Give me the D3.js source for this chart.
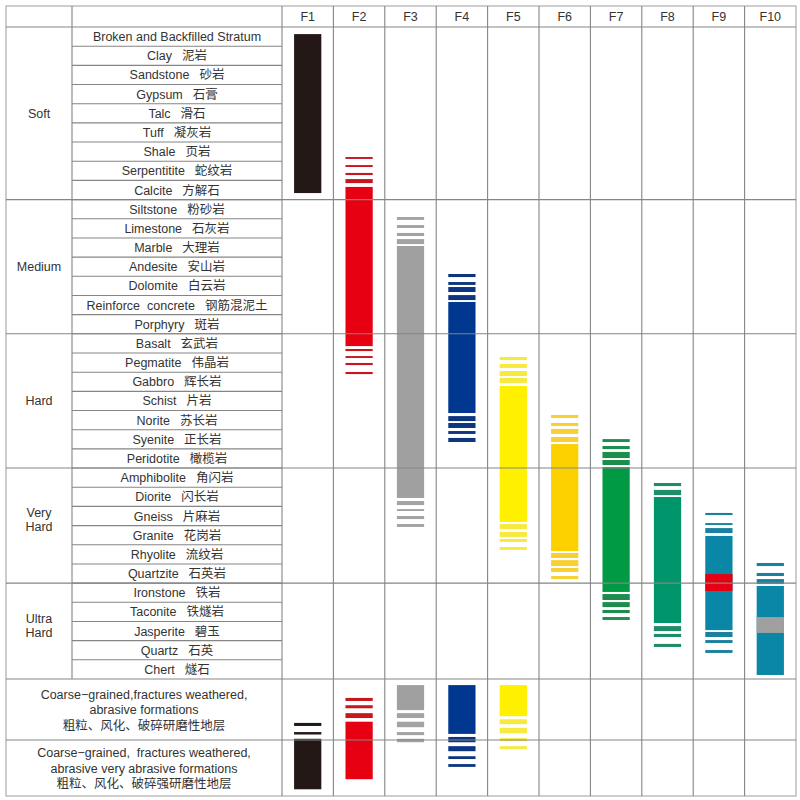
<!DOCTYPE html>
<html>
<head>
<meta charset="utf-8">
<script src="https://cdn.jsdelivr.net/npm/d3@7"></script>
<style>
  body { margin: 0; background: #fff; }
  text { font-family: "Liberation Sans", Arial, "Noto Sans CJK SC", sans-serif; fill: #333; white-space: pre; }
</style>
</head>
<body>
<script>
/////////////////////// data ////////////////////////
var groups = ["Soft", "Medium", "Hard", "Very\nHard", "Ultra\nHard"]
var groupSizes = [9, 7, 7, 6, 5]

var rocksEn = ["Broken and Backfilled Stratum", "Clay", "Sandstone", "Gypsum", "Talc", "Tuff", "Shale", "Serpentitite", "Calcite",
  "Siltstone", "Limestone", "Marble", "Andesite", "Dolomite", "Reinforce  concrete", "Porphyry",
  "Basalt", "Pegmatite", "Gabbro", "Schist", "Norite", "Syenite", "Peridotite",
  "Amphibolite", "Diorite", "Gneiss", "Granite", "Rhyolite", "Quartzite",
  "Ironstone", "Taconite", "Jasperite", "Quartz", "Chert"]
var rocksZh = ["", "泥岩", "砂岩", "石膏", "滑石", "凝灰岩", "页岩", "蛇纹岩", "方解石",
  "粉砂岩", "石灰岩", "大理岩", "安山岩", "白云岩", "钢筋混泥土", "斑岩",
  "玄武岩", "伟晶岩", "辉长岩", "片岩", "苏长岩", "正长岩", "橄榄岩",
  "角闪岩", "闪长岩", "片麻岩", "花岗岩", "流纹岩", "石英岩",
  "铁岩", "铁燧岩", "碧玉", "石英", "燧石"]

var formations = [
  ["Coarse\u2212grained,fractures weathered,", "abrasive formations", "粗粒、风化、破碎研磨性地层"],
  ["Coarse\u2212grained,  fractures weathered,", "abrasive very abrasive formations", "粗粒、风化、破碎强研磨性地层"]
]

var fCols = ["F1", "F2", "F3", "F4", "F5", "F6", "F7", "F8", "F9", "F10"]
var barColors = ["#231815", "#e60012", "#a0a0a0", "#00378f", "#fff000", "#fdd000", "#009944", "#00956b", "#0a86a6", "#0a86a6"]
var stripeColors = ["#231815", "#c8161e", "#a3a3a3", "#0d3580", "#f7ea3c", "#f9d033", "#1e8c4c", "#1f8d6a", "#1a809e", "#1a809e"]

// bar extents in row units (one unit = one rock row)
var solids = [[0.37, 8.66], [8.34, 16.64], [11.42, 24.56], [14.34, 20.13], [18.72, 25.81],
  [21.75, 27.33], [22.95, 29.46], [24.51, 31.08], [26.54, 31.45], [29.15, 33.79]]
var topStripes = [
  [],
  [[6.78, 6.88], [7.20, 7.30], [7.61, 7.72], [7.93, 8.14]],
  [[9.91, 10.06], [10.33, 10.48], [10.74, 10.90], [11.06, 11.32]],
  [[12.88, 13.04], [13.30, 13.45], [13.56, 13.82], [13.98, 14.24]],
  [[17.21, 17.37], [17.57, 17.78], [17.94, 18.20], [18.30, 18.56]],
  [[20.23, 20.39], [20.65, 20.81], [20.96, 21.22], [21.38, 21.64]],
  [[21.49, 21.64], [21.85, 22.01], [22.16, 22.48], [22.58, 22.84]],
  [[23.78, 23.94], [24.14, 24.41]],
  [[25.34, 25.45], [25.87, 25.97], [26.13, 26.39]],
  [[27.95, 28.11], [28.47, 28.63], [28.79, 29.05]]
]
var bottomStripes = [
  [],
  [[16.79, 16.90], [17.16, 17.26], [17.52, 17.63], [17.99, 18.10]],
  [[24.72, 24.93], [25.14, 25.24], [25.50, 25.66], [25.92, 26.07]],
  [[20.29, 20.55], [20.65, 20.91], [21.07, 21.22], [21.43, 21.64]],
  [[25.92, 26.18], [26.33, 26.59], [26.70, 26.85], [27.12, 27.27]],
  [[27.43, 27.69], [27.80, 28.11], [28.21, 28.42], [28.63, 28.79]],
  [[29.57, 29.88], [29.99, 30.25], [30.40, 30.56], [30.77, 30.92]],
  [[31.24, 31.50], [31.65, 31.81], [32.17, 32.33]],
  [[31.55, 31.81], [31.97, 32.12], [32.49, 32.64]],
  []
]
// coloured inserts inside F9 and F10
var inserts = [{ col: "F9", from: 28.53, to: 29.41, color: "#e60012" },
  { col: "F10", from: 30.77, to: 31.60, color: "#a0a0a0" }]

// lower two rows (34..35 and 35..36)
var lowSolids = [[34.98, 35.88], [34.70, 35.70], [34.10, 34.51], [34.10, 34.90], [34.10, 34.61]]
var lowStripes = [
  [[34.72, 34.77], [34.87, 34.91]],
  [[34.31, 34.36], [34.43, 34.48], [34.56, 34.64]],
  [[34.56, 34.64], [34.70, 34.79], [34.87, 34.92], [34.98, 35.04]],
  [[34.95, 35.04], [35.11, 35.20], [35.29, 35.34], [35.43, 35.48]],
  [[34.66, 34.74], [34.80, 34.89], [34.97, 35.02], [35.11, 35.16]]
]

/////////////////////// D3 ////////////////////////
var width = 800
var height = 800
var fs = 12.5
var left = 6, catRight = 72, nameRight = 282, right = 796, topY = 6

var y = d3.scaleLinear().domain([0, 34, 35, 36]).range([27, 679, 740, 796])
var x = d3.scaleBand().domain(fCols).range([nameRight, right])
var barW = x.bandwidth() * 0.53
var barX = (c) => x(c) + (x.bandwidth() - barW) / 2

var svg = d3.select('body').append('svg').attr('width', width).attr('height', height)

// group boundaries in row units
var bounds = [0]
groupSizes.forEach((s, i) => bounds.push(bounds[i] + s))

// bars
var cols = svg.append('g')
fCols.forEach((c, i) => {
  var segs = topStripes[i].map(d => ({ d: d, color: stripeColors[i] }))
    .concat([{ d: solids[i], color: barColors[i] }])
    .concat(bottomStripes[i].map(d => ({ d: d, color: stripeColors[i] })))
  if (i < lowSolids.length) {
    segs = segs.concat(lowStripes[i].map(d => ({ d: d, color: stripeColors[i] })))
      .concat([{ d: lowSolids[i], color: barColors[i] }])
  }
  cols.selectAll(null).data(segs).enter().append('rect')
    .attr('x', barX(c)).attr('width', barW)
    .attr('y', d => y(d.d[0])).attr('height', d => y(d.d[1]) - y(d.d[0]))
    .attr('fill', d => d.color)
})
cols.selectAll(null).data(inserts).enter().append('rect')
  .attr('x', d => barX(d.col)).attr('width', barW)
  .attr('y', d => y(d.from)).attr('height', d => y(d.to) - y(d.from))
  .attr('fill', d => d.color)

// grid lines
var grid = svg.append('g').attr('stroke', '#858585').attr('stroke-width', 1.1).attr('fill', 'none')
grid.append('rect').attr('x', left).attr('y', topY).attr('width', right - left).attr('height', y(36) - topY).attr('stroke', '#a5a5a5')
grid.append('line').attr('x1', left).attr('x2', right).attr('y1', y(0)).attr('y2', y(0))
// rows inside name column
grid.selectAll(null).data(d3.range(1, 34)).enter().append('line')
  .attr('x1', catRight).attr('x2', nameRight).attr('y1', d => y(d)).attr('y2', d => y(d))
// group boundaries and lower rows across everything
grid.selectAll(null).data(bounds.slice(1, -1).concat([34, 35])).enter().append('line')
  .attr('x1', left).attr('x2', right).attr('y1', d => y(d)).attr('y2', d => y(d))
grid.append('line').attr('x1', catRight).attr('x2', catRight).attr('y1', topY).attr('y2', y(34))
grid.selectAll(null).data(fCols).enter().append('line')
  .attr('x1', d => x(d)).attr('x2', d => x(d)).attr('y1', topY).attr('y2', y(36))

// header
svg.append('g').selectAll('text').data(fCols).enter().append('text')
  .attr('x', d => x(d) + x.bandwidth() / 2).attr('y', (topY + y(0)) / 2 + 4.5)
  .attr('text-anchor', 'middle').attr('font-size', fs).text(d => d)

// rock names
var names = svg.append('g').selectAll('text').data(rocksEn).enter().append('text')
  .attr('x', (catRight + nameRight) / 2).attr('y', (d, i) => y(i + 0.5) + 4.5)
  .attr('text-anchor', 'middle').attr('font-size', fs)
names.append('tspan').text(d => d)
names.append('tspan').attr('dx', (d, i) => rocksZh[i] ? 10 : 0).text((d, i) => rocksZh[i])

// groups
groups.forEach((g, i) => {
  var lines = g.split('\n')
  var cy = (y(bounds[i]) + y(bounds[i + 1])) / 2
  svg.append('g').selectAll('text').data(lines).enter().append('text')
    .attr('x', (left + catRight) / 2)
    .attr('y', (d, j) => cy + 4.5 + (j - (lines.length - 1) / 2) * 14 - (lines.length > 1 ? 6 : 0))
    .attr('text-anchor', 'middle').attr('font-size', fs).text(d => d)
})

// formation rows
formations.forEach((f, i) => {
  var cy = (y(34 + i) + y(35 + i)) / 2
  svg.append('g').selectAll('text').data(f).enter().append('text')
    .attr('x', (left + nameRight) / 2).attr('y', (d, j) => cy + 4.5 + (j - 1) * 15.5)
    .attr('text-anchor', 'middle').attr('font-size', fs).text(d => d)
})
</script>
</body>
</html>
